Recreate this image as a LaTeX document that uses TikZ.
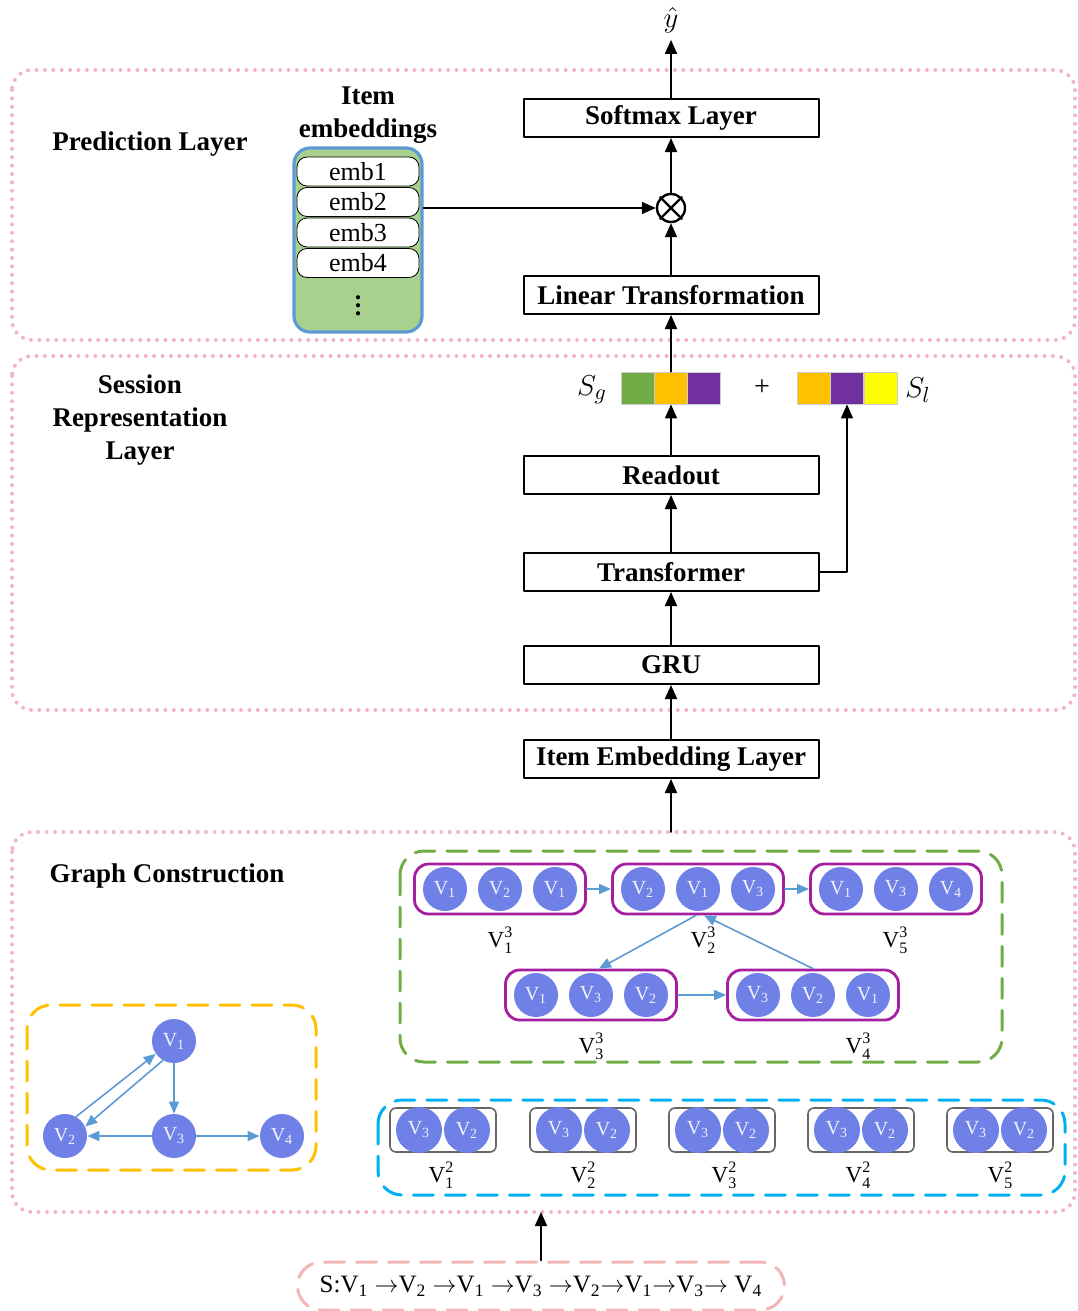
\documentclass[tikz,border=0pt]{standalone}
\usepackage{fontspec}
\setmainfont{Liberation Serif}
\usetikzlibrary{arrows.meta,calc}
\definecolor{dotpink}{RGB}{242,182,192}
\definecolor{dashpink}{RGB}{240,150,150}
\definecolor{vblue}{RGB}{111,128,230}
\definecolor{eblue}{RGB}{91,155,213}
\definecolor{gframe}{RGB}{112,173,71}
\definecolor{oframe}{RGB}{255,192,0}
\definecolor{bframe}{RGB}{0,176,240}
\definecolor{mag}{RGB}{165,30,160}
\definecolor{embgreen}{RGB}{169,209,142}
\definecolor{cgreen}{RGB}{112,173,71}
\definecolor{corange}{RGB}{255,192,0}
\definecolor{cpurple}{RGB}{112,48,160}
\definecolor{cyellow}{RGB}{255,255,0}
\newcommand\vlab[2]{V\rlap{\raisebox{0.95ex}{\fontsize{8}{8}\selectfont #2}}\raisebox{-0.55ex}{\fontsize{8}{8}\selectfont #1}}
\begin{document}
\begin{tikzpicture}[x=0.5pt,y=-0.5pt,line cap=round,line join=round,
	layer/.style={draw,line width=1pt,minimum width=147.5pt,minimum height=19pt,inner sep=0pt,font=\fontsize{13.5}{15}\selectfont\bfseries},
	lbl/.style={font=\fontsize{13.5}{16.5}\selectfont\bfseries,align=center},
	arr/.style={line width=0.9pt,-{Triangle[width=6pt,length=7pt]}},
	barrow/.style={eblue,line width=0.8pt,-{Triangle[width=5pt,length=6pt]}},
	dotframe/.style={dotpink,line width=2pt,dash pattern=on 0pt off 4.2pt,rounded corners=10pt},
	dashframe/.style={line width=1.5pt,dash pattern=on 10pt off 6pt,rounded corners=12pt},
	vnode/.style={circle,fill=vblue,minimum size=22pt,inner sep=0pt,text=white!90!vblue,font=\fontsize{10}{12}\selectfont},
	trio/.style={draw=mag,line width=1.4pt,rounded corners=7pt,minimum width=85.5pt,minimum height=25pt},
	pairbox/.style={draw=black!60,line width=0.8pt,rounded corners=3pt,minimum width=53pt,minimum height=22pt},
	emb/.style={draw,fill=white,rounded corners=5pt,minimum width=61pt,minimum height=14.5pt,inner sep=0pt,font=\fontsize{13}{14}\selectfont},
	cell/.style={draw=black!20,minimum width=16.5pt,minimum height=16pt,inner sep=0pt},
	vl/.style={font=\fontsize{11.5}{12}\selectfont}]
\useasboundingbox (0,0) rectangle (1077,1311);
% layer frames
\draw[dotframe] (12,70) rectangle (1075,340);
\draw[dotframe] (12,356) rectangle (1075,710);
\draw[dotframe] (12,832) rectangle (1075,1212);
\node[lbl] at (150,144) {Prediction Layer};
\node[lbl] at (140,420) {Session\\Representation\\Layer};
\node[lbl] at (167,876) {Graph Construction};
% prediction layer
\node[layer] (softmax) at (671,118) {Softmax Layer};
\node[layer] (lin) at (671,295) {Linear Transformation};
\node[circle,draw,line width=1.2pt,minimum size=14pt,inner sep=0pt] (mul) at (671,208) {};
\draw[line width=1.2pt] (mul.north west) -- (mul.south east) (mul.north east) -- (mul.south west);
\node (yhat) at (671,20) {\fontsize{15}{16}\selectfont$\hat{y}$};
\node[lbl] at (368,115) {Item\\embeddings};
\node[draw=eblue,line width=1.6pt,fill=embgreen,rounded corners=8pt,minimum width=64pt,minimum height=92pt] (embs) at (358,240) {};
\foreach \i/\y in {1/171.5,2/202,3/232.5,4/263}{\node[emb] (e\i) at (358,\y) {emb\i};}
\node[font=\fontsize{13}{14}\selectfont\bfseries] (edots) at (358,300) {$\vdots$};
\draw[arr] (embs.east |- mul) -- (mul);
\draw[arr] (mul) -- (softmax);
\draw[arr] (lin) -- (mul);
\draw[arr] (softmax) -- (yhat);
% session representation layer
\foreach \i/\x/\c in {1/637.5/cgreen,2/671/corange,3/704/cpurple}{\node[cell,fill=\c] (sg\i) at (\x,388) {};}
\foreach \i/\x/\c in {1/813.5/corange,2/847/cpurple,3/880.5/cyellow}{\node[cell,fill=\c] (sl\i) at (\x,388) {};}
\node (sg) at (592,390) {\fontsize{15}{16}\selectfont$S_g$};
\node (sl) at (918,390) {\fontsize{15}{16}\selectfont$S_l$};
\node (plus) at (762,388) {\fontsize{14}{15}\selectfont+};
\node[layer] (readout) at (671,475) {Readout};
\node[layer] (trans) at (671,572) {Transformer};
\node[layer] (gru) at (671,665) {GRU};
\node[layer] (iemb) at (671,759) {Item Embedding Layer};
\draw[arr] (sg2) -- (lin);
\draw[arr] (readout) -- (sg2);
\draw[arr] (trans) -- (readout);
\draw[arr,line width=0.8pt] (trans.east) -| (sl2.south);
\draw[arr] (gru) -- (trans);
\draw[arr] (iemb) -- (gru);
\coordinate (gctop) at (671,832);
\draw[arr] (gctop) -- (iemb);
% graph construction
\draw[dashframe,draw=gframe] (400,851) rectangle (1002,1062);
\draw[dashframe,draw=oframe] (27,1005) rectangle (316,1170);
\draw[dashframe,draw=bframe] (378,1100) rectangle (1065,1195);
\foreach \n/\x/\y/\a/\b/\c/\lx in {1/500/889/1/2/1/500,2/698/889/2/1/3/703,5/896/889/1/3/4/895,3/591/995/1/3/2/591,4/813/995/3/2/1/858}{
	\node[trio] (t\n) at (\x,\y) {};
	\foreach \k/\v in {-1/\a,0/\b,1/\c}{\node[vnode] at (\x+\k*55,\y) {V\textsubscript{\v}};}
	\node[vl] at (\lx,\y+51) {\vlab{\n}{3}};
}
\draw[barrow] (t1.east) -- (t2.west);
\draw[barrow] (t2.east) -- (t5.west);
\draw[barrow] (t3.east) -- (t4.west);
\draw[barrow] ([xshift=-1pt]t2.south) -- ([xshift=4pt]t3.north);
\draw[barrow] (t4.north) -- ([xshift=3pt]t2.south);
% session graph
\node[vnode] (g1) at (174,1041) {V\textsubscript{1}};
\node[vnode] (g2) at (65,1136) {V\textsubscript{2}};
\node[vnode] (g3) at (174,1136) {V\textsubscript{3}};
\node[vnode] (g4) at (282,1136) {V\textsubscript{4}};
\draw[barrow] (g2.60) -- (g1.215);
\draw[barrow] (g1.240) -- (g2.25);
\draw[barrow] (g1) -- (g3);
\draw[barrow] (g3) -- (g2);
\draw[barrow] (g3) -- (g4);
% pairs
\foreach \i/\x/\lx in {1/443/441,2/583/583,3/722/724,4/861/858,5/1000/1000}{
	\node[pairbox] (p\i) at (\x,1130) {};
	\node[vnode,minimum size=23pt] at (\x-24,1130) {V\textsubscript{3}};
	\node[vnode,minimum size=23pt] at (\x+24,1130) {V\textsubscript{2}};
	\node[vl] at (\lx,1175) {\vlab{\i}{2}};
}
% session sequence
\node[draw=dashpink!70,line width=1.5pt,dash pattern=on 10pt off 6pt,rounded corners=12pt,minimum width=243.5pt,minimum height=24pt,inner xsep=2pt,font=\fontsize{12.5}{14}\selectfont] (seq) at (541,1286)
	{S:V\textsubscript{1} $\rightarrow$V\textsubscript{2} $\rightarrow$V\textsubscript{1} $\rightarrow$V\textsubscript{3} $\rightarrow$V\textsubscript{2}$\rightarrow$V\textsubscript{1}$\rightarrow$V\textsubscript{3}$\rightarrow$ V\textsubscript{4}};
\coordinate (gcbot) at (541,1212);
\draw[arr] (seq.north) -- (gcbot);
\end{tikzpicture}
\end{document}
